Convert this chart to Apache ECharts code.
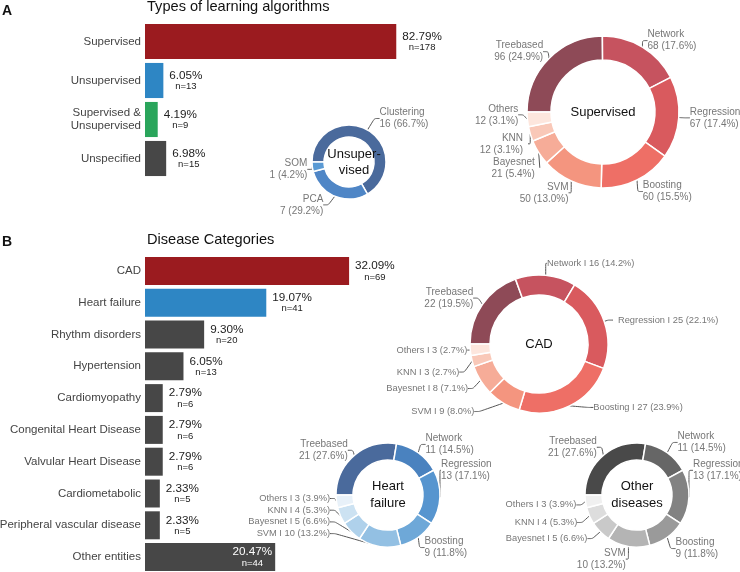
<!DOCTYPE html>
<html>
<head>
<meta charset="utf-8">
<script src="https://cdn.jsdelivr.net/npm/echarts@6/dist/echarts.min.js"></script>
<style>html,body{margin:0;padding:0;background:#fff}#chart{width:740px;height:572px}</style>
</head>
<body>
<div id="chart"></div>
<script>
// panel A: types of learning algorithms
const typeNames = ['Supervised', 'Unsupervised', 'Supervised &\nUnsupervised', 'Unspecified']
const typePct = [82.79, 6.05, 4.19, 6.98]
const typeN = [178, 13, 9, 15]

// panel B: disease categories
const diseaseNames = ['CAD', 'Heart failure', 'Rhythm disorders', 'Hypertension', 'Cardiomyopathy',
  'Congenital Heart Disease', 'Valvular Heart Disease', 'Cardiometabolic', 'Peripheral vascular disease', 'Other entities']
const diseasePct = [32.09, 19.07, 9.30, 6.05, 2.79, 2.79, 2.79, 2.33, 2.33, 20.47]
const diseaseN = [69, 41, 20, 13, 6, 6, 6, 5, 5, 44]

// algorithm breakdowns (donuts)
const algoNames = ['Treebased', 'Network', 'Regression', 'Boosting', 'SVM', 'Bayesnet', 'KNN', 'Others']
const supervisedCounts = [96, 68, 67, 60, 50, 21, 12, 12]
const cadCounts = [22, 16, 25, 27, 9, 8, 3, 3]
const heartFailureCounts = [21, 11, 13, 9, 10, 5, 4, 3]
const otherDiseaseCounts = [21, 11, 13, 9, 10, 5, 4, 3]
const unsupNames = ['Clustering', 'PCA', 'SOM']
const unsupCounts = [16, 7, 1]

// colours
const red = '#9b1b1f', blue = '#2e86c4', green = '#2aa55b', grey = '#474747'
const typeColors = [red, blue, green, grey]
const diseaseColors = [red, blue, grey, grey, grey, grey, grey, grey, grey, grey]
const redShades = ['#8e4a57', '#c6535f', '#d95a5e', '#ee6f66', '#f4957f', '#f6ac98', '#f9c8b8', '#fde6dd']
const blueShades = ['#4a6a9c', '#4a82bf', '#5795cf', '#6ea8d8', '#93c0e3', '#afd1eb', '#cce2f2', '#e8f1f9']
const greyShades = ['#494949', '#666666', '#828282', '#9a9a9a', '#b4b4b4', '#c9c9c9', '#dddddd', '#f0f0f0']
const unsupColors = ['#4a6a9c', '#4f86c6', '#5a9ad4']

// label nudges (px) to mimic the repelled labels of the original
const unsupNudge = {Clustering: [0, -8], SOM: [9, 2], PCA: [0, 5]}
const supNudge = {Treebased: [7, -4], Network: [-7, -3], Regression: [-3, 0], Others: [0, -5], SVM: [9, 1], Boosting: [-6, 8]}
const cadNudge = {Network: [-9, -8], Boosting: [12, -2], SVM: [-17, 5], Bayesnet: [1, 6], KNN: [1, 10], Others: [11, 0], Treebased: [4, -4]}
const hfNudge = {Treebased: [6, -2], Network: [-5, -5], Regression: [-13, -27], Boosting: [-6, 7]}
const othNudge = {Treebased: [6, -5], Network: [-2, -7], Regression: [-10, -27], Boosting: [-4, 8], SVM: [8, 7],
  Others: [0, 3], KNN: [-3, 5], Bayesnet: [-3, 4]}

const chart = echarts.init(document.getElementById('chart'))

const barLabel = (pcts, ns) => ({
  show: true, position: 'right', distance: 6, color: '#222',
  formatter: p => `{p|${pcts[p.dataIndex].toFixed(2)}%}\n{n|n=${ns[p.dataIndex]}}`,
  rich: {
    p: {fontSize: 11.7, lineHeight: 12, align: 'center'},
    n: {fontSize: 9.5, lineHeight: 10, align: 'center'}
  }
})

const bars = (pcts, ns, colors, grid, gap, insideIdx) => ({
  type: 'bar', xAxisIndex: grid, yAxisIndex: grid, barCategoryGap: gap,
  label: barLabel(pcts, ns),
  data: pcts.map((v, i) => ({
    value: v,
    itemStyle: {color: colors[i]},
    label: i === insideIdx ? {position: 'insideRight', distance: 3, color: '#fff'} : undefined
  }))
})

const nudgeLayout = (names, nudge, stack) => p => {
  const name = names[p.dataIndex]
  if (stack && stack.names.includes(name)) {
    const k = stack.names.indexOf(name)
    return {x: stack.x, y: stack.y + k * stack.step}
  }
  const d = nudge[name]
  if (!d) return {}
  const r = p.labelRect
  const x = p.align === 'right' ? r.x + r.width : r.x
  return {x: x + d[0], y: r.y + r.height / 2 + d[1]}
}

const pie = (names, counts, colors, center, radius, inline, nudge, stack) => {
  const total = counts.reduce((a, b) => a + b, 0)
  return {
    type: 'pie', center, radius, startAngle: 180, clockwise: true,
    left: 0, top: 0, right: -150, bottom: 0,
    itemStyle: {borderColor: '#fff', borderWidth: 1.5},
    emphasis: {disabled: true},
    label: {
      color: '#777', bleedMargin: 0,
      formatter: p => {
        const pct = (p.value / total * 100).toFixed(1)
        return inline.includes(p.name) ? `{s|${p.name} I ${p.value} (${pct}%)}` : `{t|${p.name}}\n{t|${p.value} (${pct}%)}`
      },
      rich: {
        t: {fontSize: 10, lineHeight: 12},
        s: {fontSize: 9.3, lineHeight: 11}
      }
    },
    labelLine: {length: 4, length2: 5, smooth: 0.2, lineStyle: {color: '#555', width: 1}},
    labelLayout: nudgeLayout(names, nudge, stack),
    data: names.map((name, i) => ({name, value: counts[i], itemStyle: {color: colors[i]}}))
  }
}

const centerText = (text, c, lh, dx = 0) => ({
  type: 'text', x: c[0] + dx, y: c[1], z: 100,
  style: {text, fontSize: 13, fill: '#111', align: 'center', verticalAlign: 'middle', lineHeight: lh, fontFamily: 'Liberation Sans'}
})
const heading = (text, x, y, bold) => ({
  type: 'text', x, y,
  style: {text, fontSize: bold ? 14 : 14.6, fontWeight: bold ? 'bold' : 'normal', fill: '#111', fontFamily: 'Liberation Sans'}
})

const unsupC = [349, 162], supC = [603, 112], cadC = [539, 344], hfC = [388, 495], othC = [637, 495]
const hfStack = {names: ['Others', 'KNN', 'Bayesnet', 'SVM'], x: hfC[0] - 58, y: hfC[1] + 3.5, step: 11.7}

const option = {
  animation: false,
  textStyle: {fontFamily: 'Liberation Sans'},
  grid: [
    {left: 145, top: 22, width: 303.5, height: 156, outerBoundsMode: 'none'},
    {left: 145, top: 255, width: 318, height: 318, outerBoundsMode: 'none'}
  ],
  xAxis: [
    {gridIndex: 0, type: 'value', min: 0, max: 100, show: false},
    {gridIndex: 1, type: 'value', min: 0, max: 50, show: false}
  ],
  yAxis: [0, 1].map(g => ({
    gridIndex: g, type: 'category', inverse: true, data: g ? diseaseNames : typeNames,
    axisLine: {show: false}, axisTick: {show: false},
    axisLabel: {color: '#444', fontSize: 11.5, margin: 4, lineHeight: 13}
  })),
  series: [
    bars(typePct, typeN, typeColors, 0, '10%', -1),
    bars(diseasePct, diseaseN, diseaseColors, 1, '12%', diseaseNames.length - 1),
    pie(unsupNames, unsupCounts, unsupColors, unsupC, [25, 37], [], unsupNudge),
    pie(algoNames, supervisedCounts, redShades, supC, [52, 76], [], supNudge),
    pie(algoNames, cadCounts, redShades, cadC, [49, 69], algoNames.slice(1), cadNudge),
    pie(algoNames, heartFailureCounts, blueShades, hfC, [35, 52], hfStack.names, hfNudge, hfStack),
    pie(algoNames, otherDiseaseCounts, greyShades, othC, [35, 52], ['Others', 'KNN', 'Bayesnet'], othNudge)
  ],
  graphic: [
    heading('A', 2, 4, true),
    heading('Types of learning algorithms', 147, -1, false),
    heading('B', 2, 235, true),
    heading('Disease Categories', 147, 232, false),
    centerText('Unsuper-\nvised', unsupC, 16, 5),
    centerText('Supervised', supC, 16),
    centerText('CAD', cadC, 16),
    centerText('Heart\nfailure', hfC, 17),
    centerText('Other\ndiseases', othC, 17)
  ]
}
chart.setOption(option)
</script>
</body>
</html>
